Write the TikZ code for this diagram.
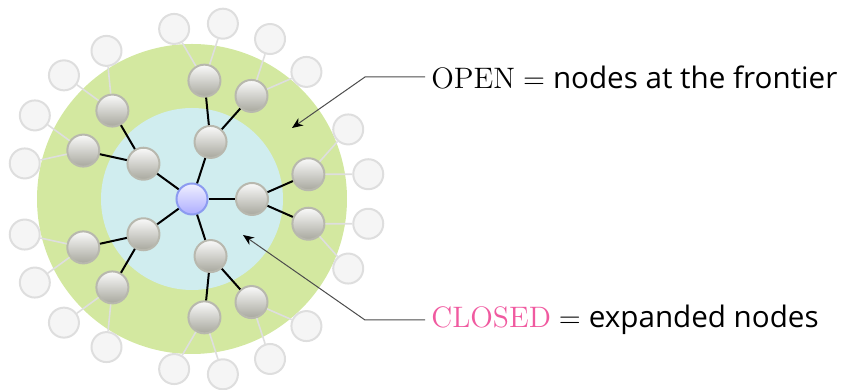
\documentclass[tikz,border=0pt]{standalone}
\usepackage{amsmath}
\usepackage{fontspec}
\newfontfamily\descfont{Open Sans}
\usetikzlibrary{positioning,calc,arrows.meta}

\definecolor{ringgreen}{RGB}{211,232,160}
\definecolor{corecyan}{RGB}{208,237,239}
\definecolor{closedpink}{RGB}{240,90,160}
\definecolor{rootedge}{RGB}{140,155,240}
\definecolor{nodeedge}{RGB}{184,184,174}
\definecolor{nodedark}{RGB}{168,168,158}

\begin{document}
\begin{tikzpicture}[x=0.5pt,y=0.5pt,
    root/.style={circle,minimum size=15.5pt,inner sep=0pt,line width=1pt,
        draw=rootedge,top color=blue!6,bottom color=blue!32},
    treenode/.style={circle,minimum size=16pt,inner sep=0pt,line width=1pt,
        draw=nodeedge,top color=black!2,bottom color=nodedark},
    unseen/.style={circle,minimum size=15pt,inner sep=0pt,line width=1pt,
        draw=black!13,fill=black!4},
    tree/.style={line width=1pt},
    faint/.style={line width=0.8pt,black!13},
    pointer/.style={black!70,line width=0.5pt,-{Stealth[length=5.5pt,width=4.5pt,black]}},
    note/.style={font=\fontsize{14.8}{17}\selectfont,inner sep=3pt}]
    \useasboundingbox (0,0) rectangle (843,390);
    % search regions
    \fill[ringgreen] (192,191) circle (155);
    \fill[corecyan] (192,191) circle (91);
    % the search tree
    \node[root] (s) at (192,191) {};
    \foreach \i/\a in {1/0,2/72,3/144,4/216,5/288} {
        \node[treenode] (n\i) at ($(s)+(\a:60)$) {};
        \draw[tree] (s) -- (n\i);
        \foreach \j/\b/\c/\d in {1/-12/-24/-8,2/12/24/8} {
            \node[treenode] (n\i\j) at ($(s)+(\a+\b:119)$) {};
            \draw[tree] (n\i) -- (n\i\j);
            \node[unseen] (n\i\j1) at ($(s)+(\a+\c:171)$) {};
            \node[unseen] (n\i\j2) at ($(s)+(\a+\d:178)$) {};
            \draw[faint] (n\i\j) -- (n\i\j1) (n\i\j) -- (n\i\j2);
        }
    }
    % labels
    \coordinate (openbend) at (365,313);
    \coordinate (opentip) at (292,262);
    \node[note,right=30pt of openbend] (open) {$\mathrm{OPEN} = {}$\descfont nodes at the frontier};
    \draw[pointer] (open.west) -- (openbend) -- (opentip);
    \coordinate (closedbend) at (365,70);
    \coordinate (closedtip) at (243,155);
    \node[note,right=30pt of closedbend] (closed) {$\color{closedpink}\mathrm{CLOSED} \color{black}= {}$\descfont expanded nodes};
    \draw[pointer] (closed.west) -- (closedbend) -- (closedtip);
\end{tikzpicture}
\end{document}
